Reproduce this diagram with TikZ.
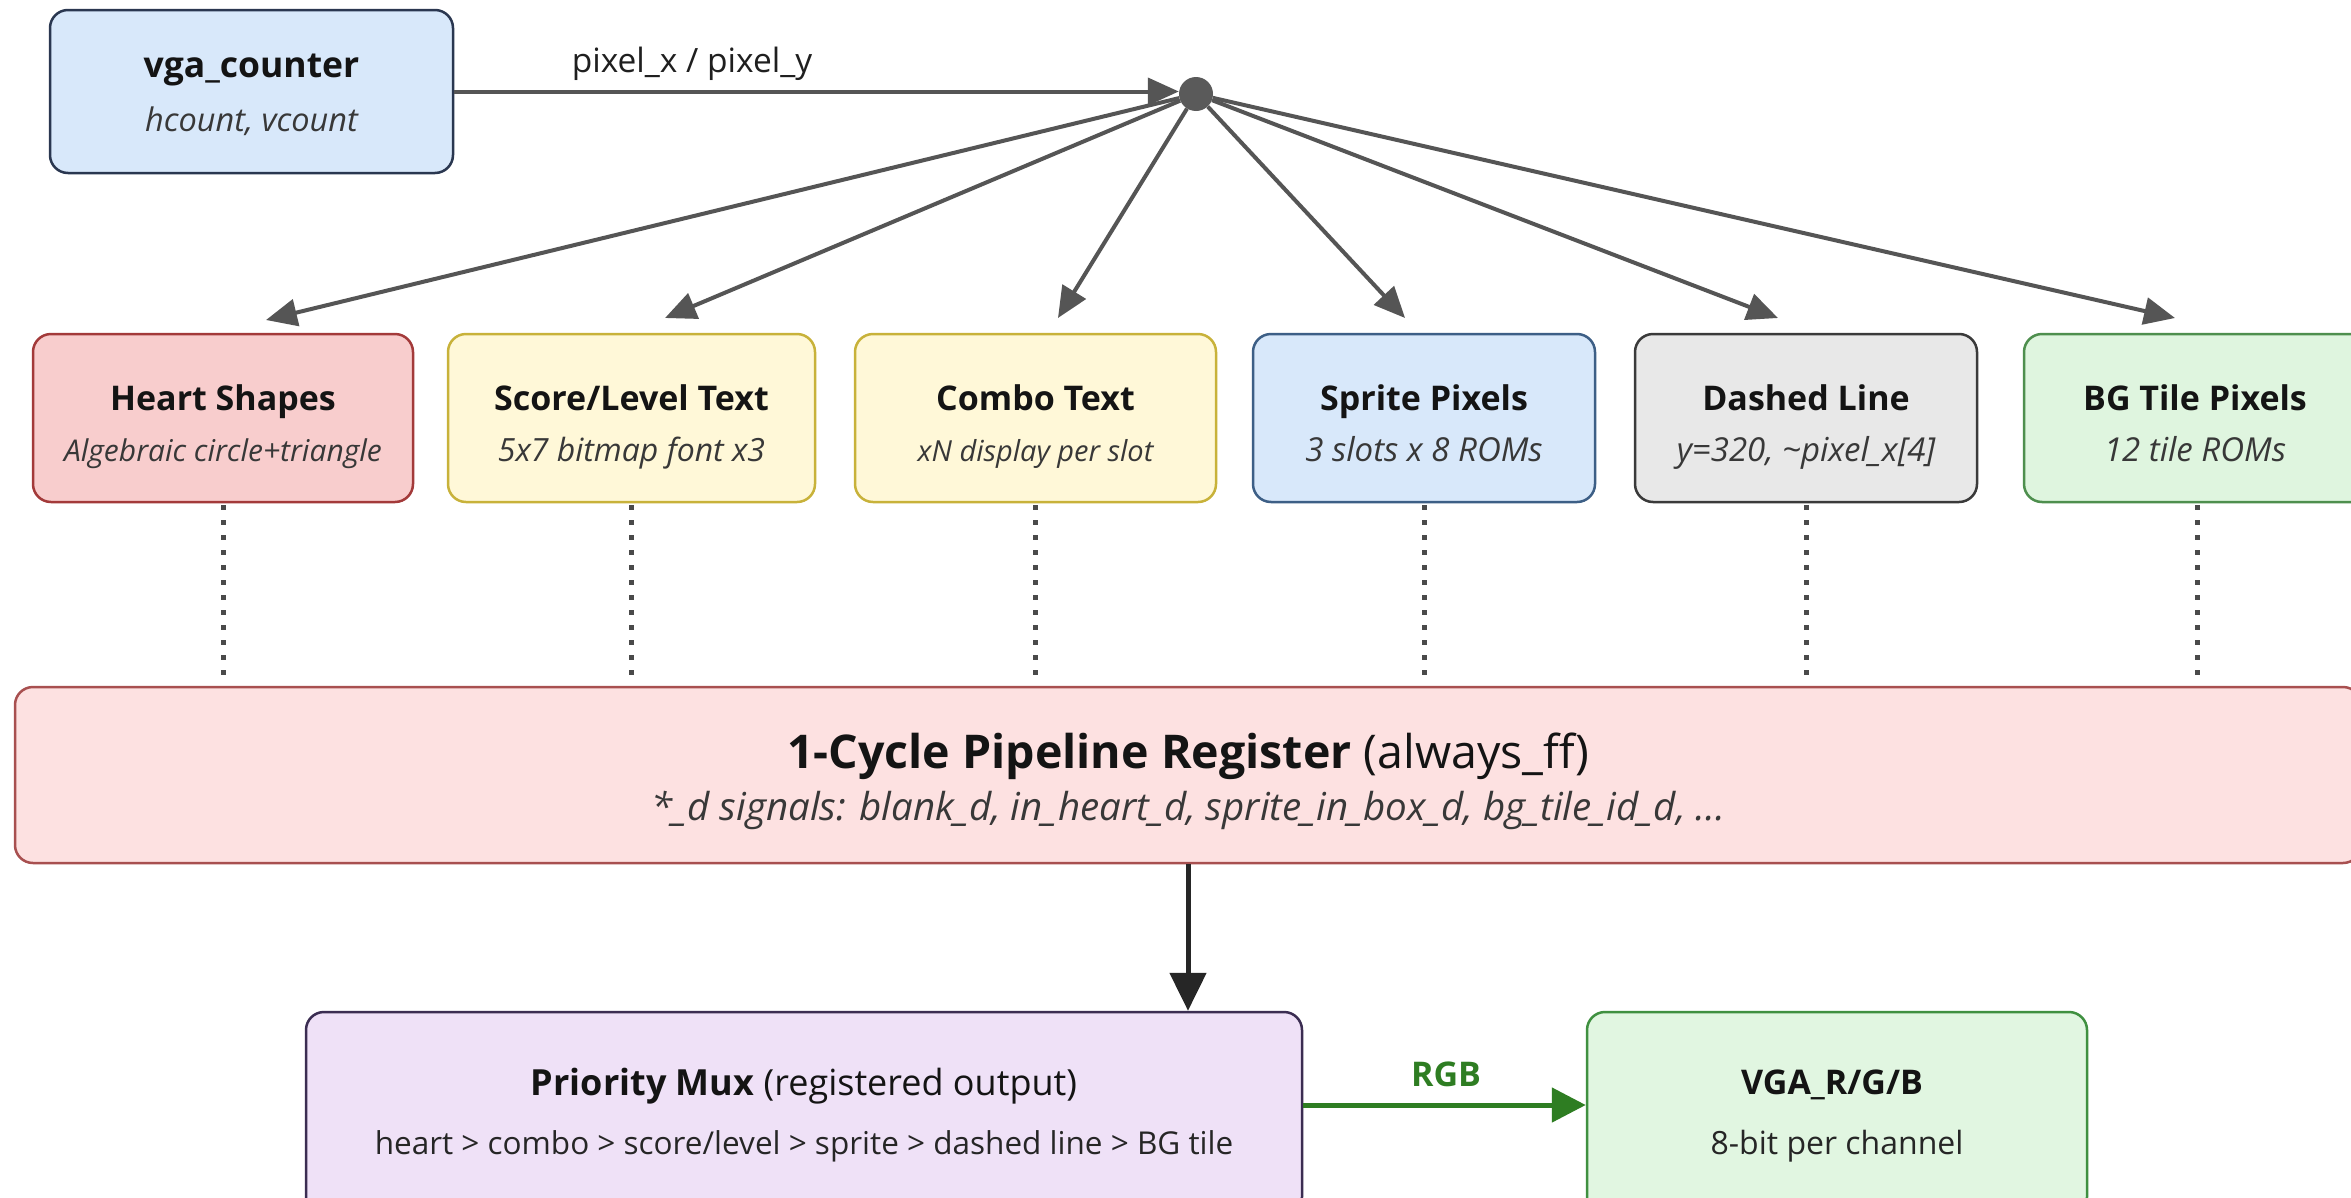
\documentclass[tikz,border=0pt]{standalone}
\usepackage{fontspec}
\setmainfont{Open Sans}
\usetikzlibrary{arrows.meta,calc}
\definecolor{blueF}{HTML}{D8E8FA}
\definecolor{blueD}{HTML}{2A3750}
\definecolor{spriteD}{HTML}{3D5F86}
\definecolor{heartF}{HTML}{F8CDCD}
\definecolor{heartD}{HTML}{A33A3A}
\definecolor{yelF}{HTML}{FFF8D8}
\definecolor{yelD}{HTML}{C8B23A}
\definecolor{grayF}{HTML}{E8E8E8}
\definecolor{grayD}{HTML}{3A3A3A}
\definecolor{greenF}{HTML}{DFF5DF}
\definecolor{greenD}{HTML}{4E8F4E}
\definecolor{pipeF}{HTML}{FDE1E1}
\definecolor{pipeD}{HTML}{A85050}
\definecolor{muxF}{HTML}{EFE1F7}
\definecolor{muxD}{HTML}{3B2D52}
\definecolor{vgaF}{HTML}{E1F6E1}
\definecolor{vgaD}{HTML}{3F9040}
\definecolor{arrowgray}{HTML}{555555}
\definecolor{hubc}{HTML}{5A5A5A}
\definecolor{dotgray}{HTML}{4A4A4A}
\definecolor{rgbgreen}{HTML}{2E7D22}
\begin{document}
\begin{tikzpicture}[x=1pt,y=-1pt,
  box/.style={draw, line width=2.5pt, rounded corners=18pt, inner sep=0pt},
  rowbox/.style={box, minimum height=168pt},
  ttl/.style={font=\fontsize{34}{40}\selectfont\bfseries, text=black!92, inner sep=0pt, text height=24pt, text depth=0pt},
  sub/.style={font=\fontsize{#1}{36}\selectfont\itshape, text=black!78, inner sep=0pt, text height=22pt, text depth=0pt},
  sub/.default=31,
  fan/.style={draw=arrowgray, line width=4pt, -{Triangle[length=31pt,width=27pt]}},
  dots/.style={draw=dotgray, line width=5pt, dash pattern=on 5pt off 10pt},
]
\clip (0,0) rectangle (2351,1197);
\fill[white] (0,0) rectangle (2351,1197);

% source
\node[box, fill=blueF, draw=blueD, minimum width=403pt, minimum height=163pt] (vga) at (251.5,91.5) {};
\node[ttl, font=\fontsize{35.5}{40}\selectfont\bfseries] (vga-t) at (251.5,65) {vga\_counter};
\node[sub=32.5] (vga-s) at (251.5,120) {hcount, vcount};

\node[circle, fill=hubc, minimum size=34pt, inner sep=0pt] (hub) at (1196,94) {};
\draw[fan] (vga.east) -- (vga.east -| hub.west);
\node[font=\fontsize{33.5}{38}\selectfont, text=black!88, inner sep=0pt, text height=24pt, text depth=0pt] (pxl) at (692,60) {pixel\_x / pixel\_y};

% row of generators
\node[rowbox, fill=heartF, draw=heartD, minimum width=380pt] (heart) at (223,418) {};
\node[ttl] (heart-t) at (223,398) {Heart Shapes};
\node[sub=30] (heart-s) at (223,450) {Algebraic circle+triangle};

\node[rowbox, fill=yelF, draw=yelD, minimum width=367pt] (score) at (631.5,418) {};
\node[ttl] (score-t) at (631.5,398) {Score/Level Text};
\node[sub=32] (score-s) at (631.5,450) {5x7 bitmap font x3};

\node[rowbox, fill=yelF, draw=yelD, minimum width=361pt] (combo) at (1035.5,418) {};
\node[ttl] (combo-t) at (1035.5,398) {Combo Text};
\node[sub=29] (combo-s) at (1035.5,450) {xN display per slot};

\node[rowbox, fill=blueF, draw=spriteD, minimum width=342pt] (sprite) at (1424,418) {};
\node[ttl] (sprite-t) at (1424,398) {Sprite Pixels};
\node[sub=33] (sprite-s) at (1424,450) {3 slots x 8 ROMs};

\node[rowbox, fill=grayF, draw=grayD, minimum width=342pt] (dash) at (1806,418) {};
\node[ttl] (dash-t) at (1806,398) {Dashed Line};
\node[sub=33] (dash-s) at (1806,450) {y=320, \textasciitilde pixel\_x[4]};

\node[rowbox, fill=greenF, draw=greenD, minimum width=346pt] (bg) at (2197,418) {};
\node[ttl] (bg-t) at (2195,398) {BG Tile Pixels};
\node[sub=33] (bg-s) at (2195,450) {12 tile ROMs};

% fan arrows
\coordinate (tipH) at (266,320);
\coordinate (tipS) at (665,318);
\coordinate (tipC) at (1058,318);
\coordinate (tipSp) at (1405,318);
\coordinate (tipD) at (1778,318);
\coordinate (tipB) at (2175,318);
\foreach \t in {tipH,tipS,tipC,tipSp,tipD,tipB}
  \draw[fan] (hub) -- (\t);

% pipeline register
\node[box, fill=pipeF, draw=pipeD, minimum width=2346pt, minimum height=176pt] (pipe) at (1188,775) {};
\node[inner sep=0pt, text height=33pt, text depth=0pt, font=\fontsize{46.5}{52}\selectfont, text=black!92] (pipe-t) at (1188,752) {\textbf{1-Cycle Pipeline Register} (always\_ff)};
\node[sub=38.5, text height=27pt] (pipe-s) at (1188,807) {*\_d signals: blank\_d, in\_heart\_d, sprite\_in\_box\_d, bg\_tile\_id\_d, ...};

\foreach \b in {heart,score,combo,sprite,dash,bg}
  \draw[dots, shorten <=2pt, shorten >=11pt] (\b.south) -- (\b.south |- pipe.north);

% mux and output
\node[box, fill=muxF, draw=muxD, minimum width=996pt, minimum height=203pt] (mux) at (804,1113.5) {};
\node[inner sep=0pt, text height=26pt, text depth=0pt, font=\fontsize{36}{42}\selectfont, text=black!92] (mux-t) at (804,1082) {\textbf{Priority Mux} (registered output)};
\node[inner sep=0pt, text height=22pt, text depth=0pt, font=\fontsize{31.5}{36}\selectfont, text=black!85] (mux-s) at (804,1143) {heart > combo > score/level > sprite > dashed line > BG tile};

\node[box, fill=vgaF, draw=vgaD, minimum width=500pt, minimum height=203pt] (out) at (1837,1113.5) {};
\node[ttl, font=\fontsize{34}{40}\selectfont\bfseries] (out-t) at (1832,1082) {VGA\_R/G/B};
\node[inner sep=0pt, text height=22pt, text depth=0pt, font=\fontsize{32}{36}\selectfont, text=black!85] (out-s) at (1837,1143) {8-bit per channel};

\draw[draw=black!85, line width=5pt, -{Triangle[length=38pt,width=36pt]}] (pipe.south) -- (pipe.south |- mux.north);
\draw[draw=rgbgreen, line width=5pt, -{Triangle[length=34pt,width=34pt]}] ([yshift=8.5pt]mux.east) -- ([yshift=8.5pt]out.west);
\node[inner sep=0pt, text height=24pt, text depth=0pt, font=\fontsize{34}{38}\selectfont\bfseries, text=rgbgreen] (rgb) at (1446,1074) {RGB};
\end{tikzpicture}
\end{document}
